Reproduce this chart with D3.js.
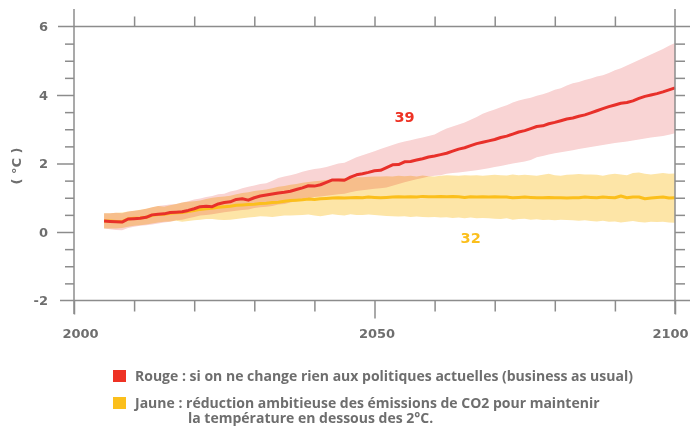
<!DOCTYPE html>
<html>
<head>
<meta charset="utf-8">
<script src="https://cdn.jsdelivr.net/npm/d3@7"></script>
<style>
  html, body { margin: 0; padding: 0; background: #fff; }
  svg { display: block; font-family: "DejaVu Sans", sans-serif; font-weight: 700; }
  .band { mix-blend-mode: multiply; }
</style>
</head>
<body>
<svg id="chart" width="690" height="426"></svg>
<script>
// Years of the projection (annual)
const years = d3.range(2005, 2101);

// Red scenario: business as usual (mean and range, °C)
const redMean = [
  0.32,0.31,0.30,0.29,0.38,0.39,0.40,0.43,0.50,0.52,
  0.53,0.57,0.58,0.59,0.63,0.68,0.74,0.75,0.74,0.82,
  0.86,0.88,0.95,0.97,0.93,1.00,1.05,1.08,1.11,1.14,
  1.16,1.19,1.24,1.29,1.35,1.34,1.38,1.45,1.52,1.52,
  1.51,1.60,1.67,1.70,1.74,1.79,1.80,1.88,1.96,1.97,
  2.05,2.06,2.10,2.14,2.19,2.22,2.26,2.30,2.36,2.42,
  2.46,2.52,2.58,2.62,2.66,2.70,2.76,2.80,2.86,2.92,
  2.96,3.02,3.08,3.10,3.16,3.20,3.25,3.30,3.33,3.38,
  3.42,3.48,3.54,3.60,3.66,3.71,3.76,3.78,3.83,3.90,
  3.96,4.00,4.04,4.09,4.15,4.21
];
const redHigh = [
  0.55,0.55,0.56,0.55,0.60,0.62,0.64,0.68,0.72,0.76,
  0.78,0.80,0.82,0.86,0.90,0.95,0.98,1.02,1.05,1.10,
  1.12,1.18,1.22,1.28,1.32,1.36,1.40,1.42,1.50,1.58,
  1.62,1.66,1.70,1.76,1.80,1.84,1.86,1.90,1.95,2.00,
  2.02,2.10,2.18,2.24,2.30,2.36,2.42,2.48,2.54,2.60,
  2.64,2.68,2.72,2.76,2.80,2.85,2.94,3.02,3.08,3.14,
  3.20,3.28,3.36,3.45,3.52,3.58,3.64,3.70,3.78,3.84,
  3.88,3.92,3.98,4.02,4.08,4.15,4.20,4.28,4.34,4.38,
  4.44,4.48,4.54,4.58,4.64,4.72,4.78,4.86,4.94,5.02,
  5.10,5.18,5.26,5.34,5.44,5.52
];
const redLow = [
  0.10,0.08,0.06,0.05,0.12,0.15,0.18,0.20,0.22,0.25,
  0.28,0.30,0.34,0.36,0.40,0.44,0.48,0.50,0.52,0.55,
  0.58,0.60,0.62,0.64,0.66,0.70,0.72,0.74,0.76,0.80,
  0.82,0.86,0.90,0.94,0.98,1.02,1.04,1.06,1.08,1.10,
  1.12,1.16,1.20,1.22,1.24,1.26,1.28,1.30,1.35,1.40,
  1.45,1.50,1.54,1.58,1.62,1.64,1.66,1.70,1.72,1.74,
  1.76,1.78,1.80,1.83,1.86,1.90,1.93,1.96,2.00,2.03,
  2.06,2.10,2.18,2.22,2.26,2.30,2.33,2.36,2.39,2.42,
  2.45,2.48,2.51,2.54,2.57,2.60,2.62,2.64,2.67,2.70,
  2.73,2.76,2.78,2.80,2.84,2.88
];

// Yellow scenario: ambitious CO2 reduction (mean and range, °C)
const yellowMean = [
  0.32,0.32,0.31,0.30,0.38,0.40,0.41,0.43,0.49,0.51,
  0.52,0.55,0.56,0.57,0.60,0.63,0.66,0.68,0.69,0.72,
  0.74,0.75,0.78,0.79,0.80,0.81,0.83,0.84,0.86,0.87,
  0.90,0.92,0.93,0.94,0.96,0.95,0.97,0.98,0.99,1.00,
  0.99,1.00,1.01,1.00,1.02,1.01,1.00,1.01,1.02,1.03,
  1.02,1.03,1.02,1.04,1.03,1.03,1.04,1.03,1.04,1.03,
  1.01,1.03,1.02,1.03,1.02,1.03,1.02,1.02,1.00,1.01,
  1.02,1.01,1.00,1.00,1.01,1.00,1.00,0.99,1.00,1.00,
  1.02,1.01,1.00,1.02,1.01,1.00,1.05,1.00,1.02,1.02,
  0.97,0.99,1.01,1.02,0.99,1.00
];
const yellowHigh = [
  0.55,0.55,0.56,0.57,0.60,0.62,0.65,0.68,0.72,0.76,
  0.74,0.78,0.82,0.86,0.88,0.90,0.92,0.96,1.00,1.02,
  1.04,1.06,1.10,1.14,1.16,1.20,1.22,1.24,1.28,1.32,
  1.34,1.38,1.40,1.44,1.46,1.48,1.50,1.52,1.54,1.56,
  1.58,1.58,1.60,1.60,1.61,1.62,1.62,1.63,1.62,1.64,
  1.63,1.64,1.62,1.65,1.63,1.62,1.64,1.66,1.65,1.64,
  1.66,1.65,1.66,1.64,1.66,1.67,1.66,1.65,1.68,1.66,
  1.67,1.66,1.64,1.67,1.70,1.66,1.64,1.67,1.68,1.69,
  1.68,1.68,1.67,1.64,1.68,1.70,1.68,1.66,1.72,1.74,
  1.70,1.68,1.70,1.72,1.70,1.71
];
const yellowLow = [
  0.10,0.10,0.10,0.12,0.15,0.18,0.20,0.22,0.25,0.28,
  0.30,0.31,0.33,0.30,0.32,0.34,0.36,0.38,0.38,0.36,
  0.35,0.36,0.38,0.40,0.42,0.44,0.46,0.45,0.44,0.46,
  0.48,0.48,0.49,0.50,0.51,0.48,0.46,0.49,0.52,0.50,
  0.48,0.52,0.50,0.50,0.51,0.50,0.48,0.47,0.46,0.45,
  0.46,0.44,0.45,0.44,0.43,0.44,0.42,0.43,0.41,0.42,
  0.40,0.42,0.40,0.41,0.40,0.39,0.38,0.40,0.36,0.38,
  0.39,0.36,0.37,0.35,0.36,0.34,0.36,0.35,0.34,0.33,
  0.34,0.32,0.31,0.33,0.30,0.31,0.28,0.30,0.32,0.29,
  0.28,0.30,0.29,0.30,0.28,0.27
];

// Axis ticks and labels
const yMajor = [-2, 0, 2, 4, 6];
const yMinor = d3.range(-2, 6.01, 0.5);
const xMajor = [2000, 2050, 2100];
const xMinor = d3.range(2010, 2100, 10);
const yTitle = "( °C )";
const scenarioLabels = [
  { text: "39", year: 2055, value: 3.36, color: "#ee3224" },
  { text: "32", year: 2066, value: -0.18, color: "#fbbf1c" }
];
const legendItems = [
  { color: "#ee3224", lines: ["Rouge : si on ne change rien aux politiques actuelles (business as usual)"] },
  { color: "#fbbf1c", lines: ["Jaune : réduction ambitieuse des émissions de CO2 pour maintenir", "la température en dessous des 2°C."] }
];

const AXIS = "#8c8c8c";
const TEXT = "#6e6e6e";
const NUM_FONT = "'DejaVu Sans', sans-serif";
const LEGEND_FONT = "'Open Sans', Roboto, sans-serif";

const svg = d3.select("#chart");
const x = d3.scaleLinear().domain([2000, 2100]).range([74, 675]);
const y = d3.scaleLinear().domain([-2, 6]).range([300.5, 26.5]);
const fmt = d => String(d);

const rows = years.map((yr, i) => ({
  yr, rm: redMean[i], rh: redHigh[i], rl: redLow[i],
  ym: yellowMean[i], yh: yellowHigh[i], yl: yellowLow[i]
}));

// Ranges (multiplied so the overlap turns orange)
const area = (lo, hi) => d3.area().x(d => x(d.yr)).y0(d => y(d[lo])).y1(d => y(d[hi]));
const bands = svg.append("g").style("isolation", "isolate");
bands.append("path").attr("class", "band").datum(rows)
  .attr("d", area("yl", "yh")).attr("fill", "#fde5a7");
bands.append("path").attr("class", "band").datum(rows)
  .attr("d", area("rl", "rh")).attr("fill", "#f9d4d4");

// Mean lines
const line = key => d3.line().x(d => x(d.yr)).y(d => y(d[key]));
svg.append("path").datum(rows).attr("d", line("ym"))
  .attr("fill", "none").attr("stroke", "#fbbf1c").attr("stroke-width", 3).attr("stroke-linejoin", "round");
svg.append("path").datum(rows).attr("d", line("rm"))
  .attr("fill", "none").attr("stroke", "#e8302a").attr("stroke-width", 3).attr("stroke-linejoin", "round");

function styleAxis(g) {
  g.selectAll("path.domain").remove();
  g.selectAll("line").attr("stroke", AXIS).attr("stroke-width", 1.5);
  g.selectAll("text").attr("fill", TEXT).attr("font-size", 13)
    .attr("font-family", NUM_FONT).attr("font-weight", 700);
}

// Frame lines
const frame = svg.append("g").attr("stroke", AXIS).attr("stroke-width", 1.5);
frame.append("line").attr("x1", 74).attr("x2", 74).attr("y1", 9).attr("y2", 314);
frame.append("line").attr("x1", 675).attr("x2", 675).attr("y1", 9).attr("y2", 314);
frame.append("line").attr("x1", 58).attr("x2", 690).attr("y1", y(6)).attr("y2", y(6));
frame.append("line").attr("x1", 60).attr("x2", 690).attr("y1", y(-2)).attr("y2", y(-2));

// Left axis: minor ticks, then major ticks with labels
svg.append("g").attr("transform", "translate(74,0)")
  .call(d3.axisLeft(y).tickValues(yMinor.filter(v => !yMajor.includes(v))).tickSize(9).tickFormat(""))
  .call(styleAxis);
svg.append("g").attr("transform", "translate(74,0)")
  .call(d3.axisLeft(y).tickValues(yMajor.filter(v => v !== -2 && v !== 6)).tickSize(17).tickPadding(9).tickFormat(fmt))
  .call(styleAxis);
svg.append("g").attr("transform", "translate(74,0)")
  .call(d3.axisLeft(y).tickValues([-2, 6]).tickSize(0).tickPadding(26).tickFormat(fmt))
  .call(styleAxis);

// Right axis
svg.append("g").attr("transform", "translate(675,0)")
  .call(d3.axisRight(y).tickValues(yMinor.filter(v => v !== 6 && v !== -2)).tickSize(10).tickFormat(""))
  .call(styleAxis);

// Top axis
svg.append("g").attr("transform", `translate(0,${y(6)})`)
  .call(d3.axisTop(x).tickValues(xMinor).tickSize(10).tickFormat(""))
  .call(styleAxis);

// Bottom axis
svg.append("g").attr("transform", `translate(0,${y(-2)})`)
  .call(d3.axisBottom(x).tickValues(xMinor.filter(v => v !== 2050)).tickSize(11).tickFormat(""))
  .call(styleAxis);
const bottom = svg.append("g").attr("transform", `translate(0,${y(-2)})`)
  .call(d3.axisBottom(x).tickValues(xMajor).tickSize(17).tickPadding(11).tickFormat(fmt))
  .call(styleAxis);
bottom.selectAll(".tick text").attr("dx", d => d === 2000 ? 6 : (d === 2100 ? -5 : 2));
bottom.selectAll(".tick line").attr("y2", d => d === 2050 ? 18 : 14);

// Y title
svg.append("text")
  .attr("transform", "translate(21,166) rotate(-90)")
  .attr("text-anchor", "middle")
  .attr("fill", TEXT).attr("font-size", 13).attr("font-family", NUM_FONT)
  .text(yTitle);

// Scenario labels
svg.selectAll("text.scen").data(scenarioLabels).join("text")
  .attr("class", "scen")
  .attr("x", d => x(d.year)).attr("y", d => y(d.value))
  .attr("text-anchor", "middle").attr("dy", "0.36em")
  .attr("fill", d => d.color).attr("font-size", 14.5).attr("font-family", NUM_FONT)
  .text(d => d.text);

// Legend
const legend = svg.append("g").attr("font-family", LEGEND_FONT).attr("font-weight", 700);
const rowTop = [370, 397];
legendItems.forEach((item, i) => {
  const top = rowTop[i];
  legend.append("rect").attr("x", 113).attr("y", top).attr("width", 13).attr("height", 12).attr("fill", item.color);
  item.lines.forEach((ln, j) => {
    legend.append("text")
      .attr("class", "leg")
      .attr("x", j === 0 ? 135 : 188)
      .attr("y", top + 10.5 + j * 15)
      .attr("fill", TEXT).attr("font-size", 13)
      .text(ln);
  });
});
// size the legend type so the first row spans its column width
const first = legend.select("text.leg").node();
const w = first.getComputedTextLength();
const size = Math.min(15, Math.max(11, 13 * 498 / w));
legend.selectAll("text.leg").attr("font-size", size);
</script>
</body>
</html>
